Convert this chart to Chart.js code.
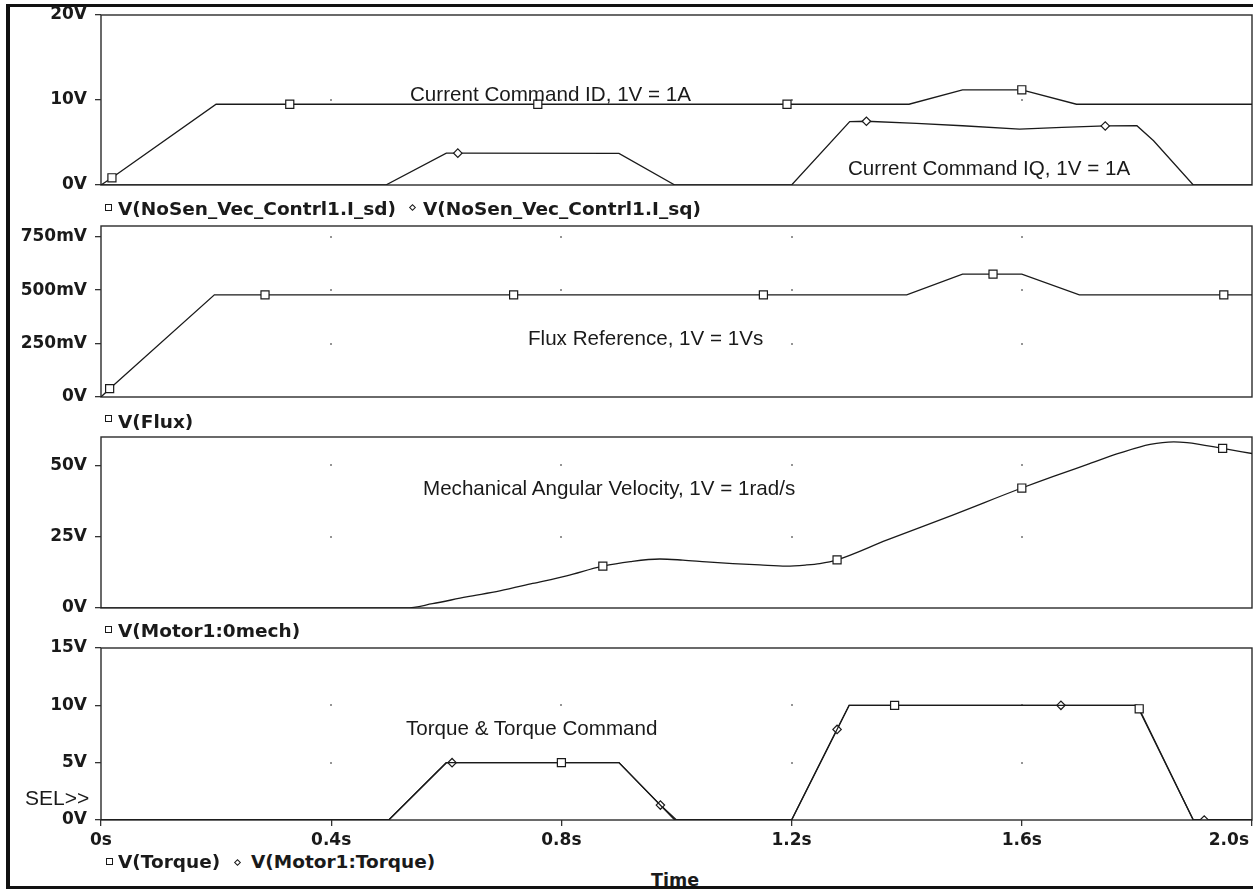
<!DOCTYPE html>
<html>
<head>
<meta charset="utf-8">
<title>NoSen vector control - transient</title>
<script src="https://cdn.jsdelivr.net/npm/chart.js@4.4.0/dist/chart.umd.min.js"></script>
<style>
  html, body { margin: 0; padding: 0; background: #fff; }
  #page { position: relative; width: 1258px; height: 890px; overflow: hidden; background: #fff; }
  #frame { position: absolute; left: 6px; top: 4px; width: 1247px; height: 885px; box-sizing: border-box;
           border: 3px solid #111; border-left-width: 4px; border-right: none; }
  canvas { position: absolute; left: 0; }
  .lbl { position: absolute; white-space: nowrap; line-height: 1; color: #1a1a1a; z-index: 2; }
  .note { font: 20.6px "Liberation Sans", Arial, sans-serif; }
  .leg { font: bold 18.5px "DejaVu Sans", sans-serif; }
  .sq { position: absolute; width: 7px; height: 7px; box-sizing: border-box; border: 1.2px solid #1a1a1a; background: #fff; z-index: 2; }
  .dm { position: absolute; width: 5px; height: 5px; box-sizing: border-box; border: 1.1px solid #1a1a1a; background: #fff; transform: rotate(45deg); z-index: 2; }
</style>
</head>
<body>
<div id="page">
  <div id="frame"></div>

  <canvas id="c1" width="1258" height="194" style="top:3px"></canvas>
  <canvas id="c2" width="1258" height="195" style="top:214px"></canvas>
  <canvas id="c3" width="1258" height="195" style="top:425px"></canvas>
  <canvas id="c4" width="1258" height="214" style="top:636px"></canvas>

  <!-- trace annotations -->
  <div class="lbl note" style="left:410px; top:82px">Current Command ID, 1V = 1A</div>
  <div class="lbl note" style="left:848px; top:156px">Current Command IQ, 1V = 1A</div>
  <div class="lbl note" style="left:528px; top:326px">Flux Reference, 1V = 1Vs</div>
  <div class="lbl note" style="left:423px; top:476px">Mechanical Angular Velocity, 1V = 1rad/s</div>
  <div class="lbl note" style="left:406px; top:716px">Torque &amp; Torque Command</div>
  <div class="lbl note" style="left:25px; top:786px; font-size:21px">SEL&gt;&gt;</div>

  <!-- legends -->
  <div class="sq" style="left:105px; top:204px"></div>
  <div class="lbl leg" style="left:118px; top:198px">V(NoSen_Vec_Contrl1.I_sd)</div>
  <div class="dm" style="left:410px; top:205px"></div>
  <div class="lbl leg" style="left:423px; top:198px">V(NoSen_Vec_Contrl1.I_sq)</div>

  <div class="sq" style="left:105px; top:415px"></div>
  <div class="lbl leg" style="left:118px; top:411px">V(Flux)</div>

  <div class="sq" style="left:105px; top:626px"></div>
  <div class="lbl leg" style="left:118px; top:620px">V(Motor1:0mech)</div>

  <div class="sq" style="left:106px; top:858px"></div>
  <div class="lbl leg" style="left:118px; top:851px">V(Torque)</div>
  <div class="dm" style="left:235px; top:860px"></div>
  <div class="lbl leg" style="left:251px; top:851px">V(Motor1:Torque)</div>

  <div class="lbl leg" style="left:651px; top:870px; font-size:17.5px">Time</div>
</div>

<script>
// time axis (s)
const TIME_TICKS = [0, 0.4, 0.8, 1.2, 1.6, 2.0];
const TIME_LABELS = ['0s', '0.4s', '0.8s', '1.2s', '1.6s', '2.0s'];

// panel 1: current commands (V)
const ISD_T = [0, 0.019, 0.2, 0.328, 0.759, 1.192, 1.404, 1.497, 1.6, 1.695, 2.0];
const ISD_V = [0, 0.85, 9.5, 9.5, 9.5, 9.5, 9.5, 11.2, 11.2, 9.5, 9.5];
const ISD_MARKS = [0.019, 0.328, 0.759, 1.192, 1.6];

const ISQ_T = [0, 0.495, 0.6, 0.62, 0.9, 0.997, 1.2, 1.301, 1.33, 1.417, 1.497, 1.596, 1.67, 1.745, 1.8, 1.829, 1.898, 2.0];
const ISQ_V = [0, 0, 3.75, 3.75, 3.72, 0, 0, 7.45, 7.5, 7.26, 6.97, 6.58, 6.77, 6.95, 6.97, 5.2, 0, 0];
const ISQ_MARKS = [0.62, 1.33, 1.745];

const P1_TICKS = [0, 10, 20];
const P1_LABELS = ['0V', '10V', '20V'];

// panel 2: flux reference (V)
const FLUX_T = [0, 0.015, 0.197, 0.285, 0.717, 1.151, 1.4, 1.497, 1.55, 1.6, 1.7, 1.951, 2.0];
const FLUX_V = [0, 0.039, 0.478, 0.478, 0.478, 0.478, 0.478, 0.575, 0.575, 0.575, 0.478, 0.478, 0.478];
const FLUX_MARKS = [0.015, 0.285, 0.717, 1.151, 1.55, 1.951];

const P2_TICKS = [0, 0.25, 0.5, 0.75];
const P2_LABELS = ['0V', '250mV', '500mV', '750mV'];

// panel 3: mechanical angular velocity (V)
const VEL_T = [0, 0.53, 0.576, 0.635, 0.693, 0.75, 0.809, 0.872, 0.92, 0.971, 1.011, 1.052, 1.098, 1.145,
               1.191, 1.226, 1.249, 1.279, 1.365, 1.481, 1.6, 1.655, 1.713, 1.771, 1.823, 1.864, 1.887, 1.949, 2.0];
const VEL_V = [0, 0, 1.5, 3.9, 6.0, 8.6, 11.3, 14.7, 16.3, 17.2, 16.8, 16.2, 15.6, 15.1,
               14.7, 15.1, 15.6, 16.9, 23.8, 32.7, 42.1, 46.2, 50.3, 54.4, 57.4, 58.3, 58.0, 56.0, 54.2];
const VEL_MARKS = [0.872, 1.279, 1.6, 1.949];

const P3_TICKS = [0, 25, 50];
const P3_LABELS = ['0V', '25V', '50V'];

// panel 4: torque command and motor torque (V)
const TQ_T = [0, 0.5, 0.6, 0.8, 0.9, 0.997, 1.2, 1.3, 1.379, 1.8, 1.804, 1.898, 2.0];
const TQ_V = [0, 0, 5, 5, 5, 0, 0, 10, 10, 10, 9.7, 0, 0];
const TQ_MARKS = [0.8, 1.379, 1.804];

const MT_T = [0, 0.5, 0.6, 0.61, 0.9, 0.972, 1.0, 1.2, 1.279, 1.3, 1.668, 1.8, 1.898, 1.917, 2.0];
const MT_V = [0, 0, 5, 5, 5, 1.3, 0, 0, 7.9, 10, 10, 10, 0, 0, 0];
const MT_MARKS = [0.61, 0.972, 1.279, 1.668, 1.917];

const P4_TICKS = [0, 5, 10, 15];
const P4_LABELS = ['0V', '5V', '10V', '15V'];

const INK = '#1a1a1a';

function trace(T, V, marks, style, extra) {
    const r = style === 'rect' ? 5.7 : 4.2;
    return Object.assign({
        data: T.map((t, i) => ({ x: t, y: V[i] })),
        borderColor: INK,
        borderWidth: 1.3,
        pointStyle: style,
        pointRadius: c => (c.raw && marks.includes(c.raw.x)) ? r : 0,
        pointHoverRadius: 0,
        pointBackgroundColor: '#fff',
        pointBorderColor: INK,
        pointBorderWidth: 1.2,
        tension: 0,
        fill: false,
    }, extra || {});
}

// box around each plot + dots where the grid lines would cross
const plotFrame = {
    id: 'plotFrame',
    beforeDatasetsDraw(chart) {
        const { ctx, chartArea: a } = chart;
        const xs = chart.scales.x, ys = chart.scales.y;
        ctx.save();
        ctx.fillStyle = '#444';
        TIME_TICKS.forEach(t => {
            if (t <= xs.min || t >= xs.max) return;
            ys.ticks.forEach(tk => {
                if (tk.value <= ys.min || tk.value >= ys.max) return;
                const px = Math.round(xs.getPixelForValue(t));
                const py = Math.round(ys.getPixelForValue(tk.value));
                ctx.fillRect(px - 0.75, py - 0.75, 1.5, 1.5);
            });
        });
        ctx.strokeStyle = '#2b2b2b';
        ctx.lineWidth = 1.4;
        ctx.strokeRect(a.left, a.top, a.right - a.left, a.bottom - a.top);
        ctx.restore();
    }
};

// time labels under the last panel, last one kept inside the plot
const timeLabels = {
    id: 'timeLabels',
    afterDraw(chart) {
        const { ctx, chartArea: a } = chart;
        const xs = chart.scales.x;
        ctx.save();
        ctx.font = 'bold 17px "DejaVu Sans"';
        ctx.fillStyle = INK;
        ctx.textBaseline = 'alphabetic';
        TIME_TICKS.forEach((t, i) => {
            const label = TIME_LABELS[i];
            const w = ctx.measureText(label).width;
            let x = xs.getPixelForValue(t) - w / 2;
            x = Math.min(x, a.right - 3 - w);
            ctx.fillText(label, x, a.bottom + 25);
        });
        ctx.restore();
    }
};

function makePanel(id, datasets, yMax, yTicks, yLabels, showTime) {
    const tickFont = { family: 'DejaVu Sans', size: 17, weight: 'bold' };
    return new Chart(document.getElementById(id), {
        type: 'line',
        data: { datasets },
        options: {
            responsive: false,
            animation: false,
            events: [],
            layout: { padding: { left: 0, right: 6, top: 12, bottom: showTime ? 0 : 12 } },
            plugins: { legend: { display: false }, tooltip: { enabled: false } },
            scales: {
                x: {
                    type: 'linear',
                    min: 0,
                    max: 2,
                    display: showTime,
                    afterBuildTicks: s => { s.ticks = TIME_TICKS.map(v => ({ value: v })); },
                    afterFit: s => {
                        s.height = showTime ? 30 : 0;
                        s.paddingLeft = 0;
                        s.paddingRight = 0;
                    },
                    border: { display: false },
                    grid: { drawOnChartArea: false, drawTicks: true, tickLength: 6, color: '#333', lineWidth: 1.3 },
                    ticks: { display: false },
                },
                y: {
                    type: 'linear',
                    min: 0,
                    max: yMax,
                    afterBuildTicks: s => { s.ticks = yTicks.map(v => ({ value: v })); },
                    afterFit: s => {
                        s.width = 101;
                        s.paddingTop = 0;
                        s.paddingBottom = 0;
                    },
                    border: { display: false },
                    grid: { drawOnChartArea: false, drawTicks: true, tickLength: 6, color: '#333', lineWidth: 1.3 },
                    ticks: {
                        padding: 8,
                        color: INK,
                        font: tickFont,
                        callback: v => yLabels[yTicks.indexOf(v)],
                    },
                },
            },
        },
        plugins: showTime ? [plotFrame, timeLabels] : [plotFrame],
    });
}

makePanel('c1', [
    trace(ISD_T, ISD_V, ISD_MARKS, 'rect'),
    trace(ISQ_T, ISQ_V, ISQ_MARKS, 'rectRot'),
], 20, P1_TICKS, P1_LABELS, false);

makePanel('c2', [
    trace(FLUX_T, FLUX_V, FLUX_MARKS, 'rect'),
], 0.8, P2_TICKS, P2_LABELS, false);

makePanel('c3', [
    trace(VEL_T, VEL_V, VEL_MARKS, 'rect', { cubicInterpolationMode: 'monotone' }),
], 60, P3_TICKS, P3_LABELS, false);

makePanel('c4', [
    trace(TQ_T, TQ_V, TQ_MARKS, 'rect'),
    trace(MT_T, MT_V, MT_MARKS, 'rectRot'),
], 15, P4_TICKS, P4_LABELS, true);
</script>
</body>
</html>
